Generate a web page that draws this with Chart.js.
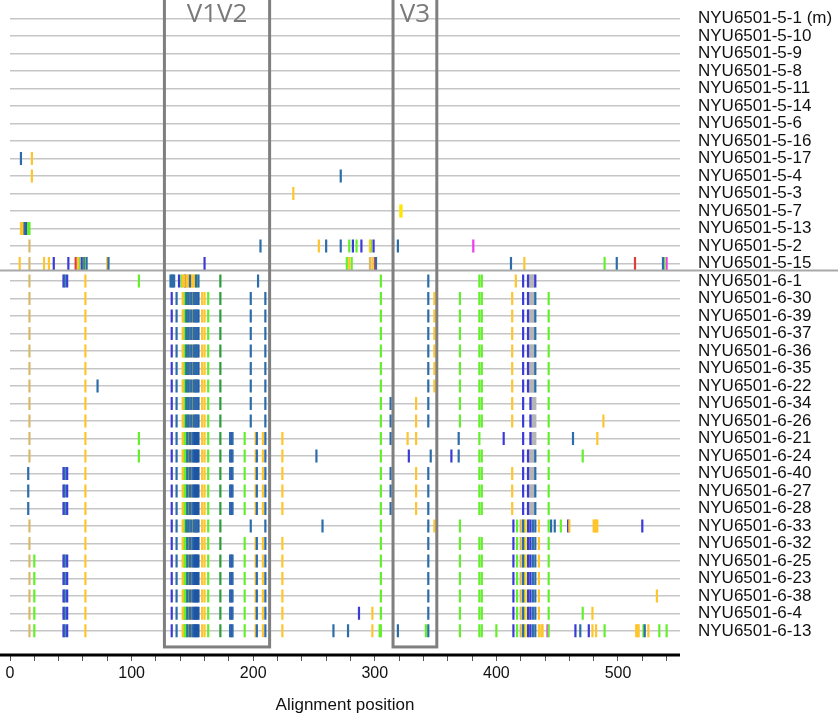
<html lang="en">
<head>
  <meta charset="UTF-8">
  <title>Highlighter plot</title>
  <script src="https://cdn.jsdelivr.net/npm/chart.js"></script>
  <style>
    body { margin: 0; background: #fff; }
    #wrap { width: 838px; height: 716px; }
  </style>
</head>
<body>
  <div id="wrap"><canvas id="viz"></canvas></div>
  <script>
    // sequence names, top to bottom
    const sequences = [
      'NYU6501-5-1 (m)', 'NYU6501-5-10', 'NYU6501-5-9', 'NYU6501-5-8', 'NYU6501-5-11',
      'NYU6501-5-14', 'NYU6501-5-6', 'NYU6501-5-16', 'NYU6501-5-17', 'NYU6501-5-4',
      'NYU6501-5-3', 'NYU6501-5-7', 'NYU6501-5-13', 'NYU6501-5-2', 'NYU6501-5-15',
      'NYU6501-6-1', 'NYU6501-6-30', 'NYU6501-6-39', 'NYU6501-6-37', 'NYU6501-6-36',
      'NYU6501-6-35', 'NYU6501-6-22', 'NYU6501-6-34', 'NYU6501-6-26', 'NYU6501-6-21',
      'NYU6501-6-24', 'NYU6501-6-40', 'NYU6501-6-27', 'NYU6501-6-28', 'NYU6501-6-33',
      'NYU6501-6-32', 'NYU6501-6-25', 'NYU6501-6-23', 'NYU6501-6-38', 'NYU6501-6-4',
      'NYU6501-6-13'
    ]

    // variable regions (alignment positions)
    const regions = [
      { label: 'V1V2', start: 127, end: 213.5 },
      { label: 'V3', start: 315, end: 351 }
    ]

    const xTicks = [0, 100, 200, 300, 400, 500]

    // mark codes: letter = change type, number = alignment position
    const grp5_17 = ['S9', 'Y18']
    const grp5_4 = ['Y18', 'S272']
    const grp5_3 = ['Y233']
    const grp5_7 = ['W321', 'W322']
    const grp5_13 = ['Y9', 'Y10', 'Y11', 'S12', 'P13', 'L14', 'L15', 'L16']
    const grp5_2 = ['T16', 'S206', 'Y254', 'S260', 'S272', 'L279', 'P282', 'L285', 'P289',
      'Y296', 'L297', 'P299', 'S319', 'M381']
    const grp5_15 = ['Y8', 'T16', 'Y28', 'Y32', 'P36', 'P48', 'R54', 'Y56', 'L57', 'P59', 'G61',
      'S63', 'Y80', 'S81', 'P160', 'L277', 'Y279', 'L281', 'T296', 'Y298', 'R300', 'S301',
      'S412', 'Y423', 'L489', 'S499', 'R514', 'S537', 'L538', 'M540']

    const left6a = ['T16', 'Y62']
    const left6b = ['S15', 'P44', 'S45', 'P47', 'Y62']
    const left6c = ['T16', 'L20', 'P44', 'S45', 'P47', 'Y62']

    const v12_6_1 = ['S132', 'S133', 'S134', 'S135', 'P139', 'L141', 'Y142', 'Y143', 'P144',
      'Y145', 'Y146', 'Y147', 'S148', 'Y149', 'Y150', 'Y151', 'Y152', 'S153', 'L154', 'S155',
      'G173', 'S204']
    const v12a = ['P133', 'S137', 'Y142', 'L143', 'L144', 'S145', 'G146', 'S147', 'Y148',
      'S149', 'Y150', 'S151', 'S152', 'B153', 'S154', 'B155', 'Y158', 'Y160', 'L163', 'G173',
      'S198', 'S210']
    const v12b = ['P133', 'S137', 'Y142', 'L143', 'L144', 'G145', 'S146', 'Y147', 'S148',
      'Y149', 'S150', 'B151', 'B152', 'B153', 'B154', 'B155', 'Y158', 'Y160', 'L163', 'G173',
      'L193', 'Y202', 'S203', 'Y208', 'S210', 'Y224']
    const v12pair = ['S181', 'P182', 'S183']

    const right6_1 = ['L305', 'S344', 'L386', 'L388', 'Y416', 'P422', 'P426', 'K427', 'K428',
      'K429', 'K430', 'K431', 'P432']
    const right6a = ['L305', 'S344', 'Y349', 'L370', 'L386', 'L388', 'Y413', 'P422', 'P426',
      'K427', 'K428', 'K429', 'K430', 'K431', 'S432', 'L443']
    const right6b = ['L305', 'S313', 'Y334', 'S344', 'L370', 'L386', 'L388', 'Y413', 'P422',
      'P428', 'K429', 'K430', 'K431', 'K432', 'L443']
    const right6_21 = ['L305', 'S313', 'Y327', 'Y334', 'S369', 'L386', 'P406', 'P422', 'P428',
      'K429', 'K430', 'K431', 'K432', 'L443', 'S463', 'Y483']
    const right6_24 = ['S252', 'L305', 'P328', 'S346', 'P363', 'S369', 'L386', 'L388', 'P422',
      'P426', 'K427', 'K428', 'K429', 'K430', 'K431', 'S432', 'L443', 'L471']
    const right6c = ['L305', 'S313', 'Y334', 'S344', 'L386', 'L388', 'Y413', 'P422', 'P426',
      'K427', 'K428', 'K429', 'K430', 'K431', 'S432', 'L443']
    const core6 = ['P414', 'L417', 'K420', 'Y421', 'S422', 'K423', 'W424', 'P426', 'K427',
      'P428', 'S430', 'S432', 'Y435', 'L443']
    const right6_33 = ['S257', 'L305', 'S344', 'Y349', 'L370', 'S445', 'S448', 'L453', 'P459',
      'Y460', 'Y480', 'Y481', 'Y482', 'Y483', 'P520']
    const right6d = ['L305', 'S344', 'L370', 'L386', 'L388']
    const right6_13 = ['S266', 'S278', 'Y298', 'L304', 'L305', 'S319', 'L342', 'S344', 'L370',
      'L386', 'L388', 'L400', 'Y437', 'Y438', 'M442', 'P465', 'S469', 'P476', 'Y479', 'Y482',
      'L489', 'Y515', 'Y516', 'Y517', 'L521', 'S522', 'Y525', 'L534', 'L540']

    const rowMarks = [
      [], [], [], [], [], [], [], [],
      grp5_17, grp5_4, grp5_3, grp5_7, grp5_13, grp5_2, grp5_15,
      ['T16', 'P44', 'S45', 'P47', 'Y62', 'L106', ...v12_6_1, ...right6_1],   // 6-1
      [...left6a, ...v12a, ...right6a],   // 6-30
      [...left6a, ...v12a, ...right6a],   // 6-39
      [...left6a, ...v12a, ...right6a],   // 6-37
      [...left6a, ...v12a, ...right6a],   // 6-36
      [...left6a, ...v12a, ...right6a],   // 6-35
      [...left6a, 'S72', ...v12a, ...right6a],   // 6-22
      [...left6a, ...v12a, ...right6b],   // 6-34
      [...left6a, ...v12a, ...right6b, 'Y488'],   // 6-26
      [...left6a, 'L106', ...v12b, ...v12pair, ...right6_21],   // 6-21
      [...left6a, 'L106', ...v12b, ...v12pair, ...right6_24],   // 6-24
      [...left6b, ...v12b, ...v12pair, ...right6c],   // 6-40
      [...left6b, ...v12b, ...v12pair, ...right6c],   // 6-27
      [...left6b, ...v12b, ...v12pair, ...right6c],   // 6-28
      [...left6a, ...v12a, ...right6_33, ...core6],   // 6-33
      [...left6a, ...v12b, ...right6d, ...core6],   // 6-32
      [...left6c, ...v12b, ...v12pair, ...right6d, ...core6],   // 6-25
      [...left6c, ...v12b, ...v12pair, ...right6d, ...core6],   // 6-23
      [...left6c, ...v12b, ...v12pair, ...right6d, ...core6, 'Y532'],   // 6-38
      [...left6c, ...v12b, ...v12pair, 'P287', 'Y298', ...right6d, ...core6, 'L471', 'Y479'],   // 6-4
      [...left6c, ...v12b, ...v12pair, ...right6_13, ...core6]   // 6-13
    ]

    const markColors = {
      Y: '#ffc52c', L: '#62f02a', G: '#2f9c3c', S: '#2d6cab', P: '#3a3ad6',
      B: '#1e55a5', K: '#b5b5b5', R: '#df3d3a', M: '#ee3cee', W: '#ffe600', T: '#d8ba6c'
    }

    const byCode = {}
    rowMarks.forEach((marks, row) => {
      marks.forEach(m => {
        const code = m[0]
        const pos = Number(m.slice(1))
        if (!byCode[code]) byCode[code] = []
        byCode[code].push({ x: pos, y: row })
      })
    })

    const datasets = Object.keys(byCode).map(code => ({
      label: code,
      data: byCode[code],
      pointStyle: 'line',
      pointRotation: 90,
      pointRadius: 6.5,
      pointBorderWidth: 2.2,
      pointBorderColor: markColors[code],
      pointBackgroundColor: markColors[code],
      showLine: false
    }))

    const overlay = {
      id: 'overlay',
      afterDraw(chart) {
        const { ctx, chartArea, scales } = chart
        const xs = scales.x
        const ys = scales.y
        ctx.save()
        // group separator
        const sepY = ys.getPixelForValue(14.4)
        ctx.strokeStyle = '#a9a9a9'
        ctx.lineWidth = 2
        ctx.beginPath()
        ctx.moveTo(0, sepY)
        ctx.lineTo(chart.width, sepY)
        ctx.stroke()
        // x axis line
        ctx.strokeStyle = '#000'
        ctx.lineWidth = 3
        ctx.beginPath()
        ctx.moveTo(0, chartArea.bottom)
        ctx.lineTo(chartArea.right, chartArea.bottom)
        ctx.stroke()
        // region boxes
        const boxBottom = ys.getPixelForValue(35.92)
        regions.forEach(r => {
          const x1 = xs.getPixelForValue(r.start)
          const x2 = xs.getPixelForValue(r.end)
          ctx.strokeStyle = '#7f7f7f'
          ctx.lineWidth = 3
          ctx.strokeRect(x1, -20, x2 - x1, boxBottom + 20)
          ctx.fillStyle = '#7a7a7a'
          ctx.font = '26px "Open Sans"'
          ctx.textAlign = 'center'
          ctx.textBaseline = 'alphabetic'
          ctx.fillText(r.label, (x1 + x2) / 2, 22)
        })
        ctx.restore()
      }
    }

    Chart.defaults.font.family = '"Liberation Sans", Arial, sans-serif'
    Chart.defaults.color = '#111'

    new Chart(document.getElementById('viz'), {
      type: 'scatter',
      data: { datasets },
      options: {
        responsive: true,
        maintainAspectRatio: false,
        animation: false,
        events: [],
        layout: { padding: { left: 10, right: 0, top: 0, bottom: 0 } },
        plugins: { legend: { display: false }, tooltip: { enabled: false } },
        scales: {
          x: {
            type: 'linear',
            min: 0,
            max: 551,
            border: { display: false },
            grid: { drawOnChartArea: false, tickLength: 6, color: '#555', lineWidth: 1 },
            ticks: {
              stepSize: 20,
              includeBounds: false,
              autoSkip: false,
              maxRotation: 0,
              padding: 3,
              font: { size: 16 },
              callback: v => xTicks.includes(v) ? String(v) : ''
            },
            title: {
              display: true,
              text: 'Alignment position',
              font: { size: 17 },
              padding: { top: 10, bottom: 0 }
            },
            afterFit: s => { s.height = 61 }
          },
          y: {
            type: 'linear',
            position: 'right',
            reverse: true,
            min: -0.57,
            max: 36.38,
            border: { display: false },
            grid: { color: '#c6c6c6', lineWidth: 1.5, drawTicks: false },
            afterBuildTicks: s => { s.ticks = sequences.map((_, i) => ({ value: i })) },
            ticks: {
              autoSkip: false,
              padding: 18,
              font: { size: 17 },
              callback: v => sequences[v]
            },
            afterFit: s => { s.width = 158; s.paddingTop = 0; s.paddingBottom = 0 }
          }
        }
      },
      plugins: [overlay]
    })
  </script>
</body>
</html>
